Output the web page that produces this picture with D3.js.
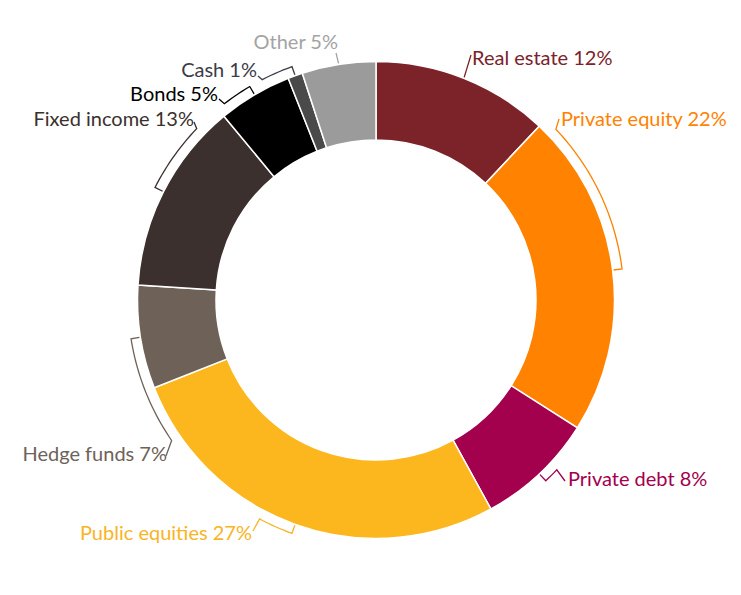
<!DOCTYPE html>
<html>
<head>
<meta charset="utf-8">
<script src="https://cdn.jsdelivr.net/npm/d3@7"></script>
<style>
  body { margin: 0; background: #fff; }
  text { font-family: Lato, "Open Sans", sans-serif; }
</style>
</head>
<body>
<div id="chart"></div>
<script>
// asset allocation, clockwise from 12 o'clock
const categories = ["Real estate", "Private equity", "Private debt", "Public equities",
  "Hedge funds", "Fixed income", "Bonds", "Cash", "Other"];
const shares = [12, 22, 8, 27, 7, 13, 5, 1, 5];
const sliceColors = ["#7b2329", "#ff8200", "#a3004e", "#fdb71e",
  "#6e6258", "#3b302d", "#000000", "#4a4a4a", "#9b9b9b"];
const labelColors = ["#7b2329", "#ff8200", "#a3004e", "#f9b425",
  "#6e6258", "#3b302d", "#000000", "#3c3c48", "#a3a3a3"];

// where each leader bracket ends (deg) and where its label sits
const labelLayout = [
  { end: null, cx: 471, cy: 55, tx: 472, ty: 65, anchor: "start" },
  { end: 46.5, cx: 559, cy: 119, tx: 561, ty: 126, anchor: "start" },
  { end: 133.2, cx: 565, cy: 481, tx: 568, ty: 486, anchor: "start" },
  { end: 208, cx: 253, cy: 531, tx: 252, ty: 540, anchor: "end" },
  { end: 235.5, cx: 166, cy: 456, tx: 167, ty: 461, anchor: "end" },
  { end: 313.7, cx: 194, cy: 122, tx: 194, ty: 126, anchor: "end" },
  { end: 322.3, cx: 219, cy: 99, tx: 218, ty: 101, anchor: "end" },
  { end: 332.7, cx: 258, cy: 76, tx: 257, ty: 77, anchor: "end" },
  { end: null, cx: 336, cy: 53, tx: 338, ty: 49, anchor: "end" }
];

const width = 741, height = 595;
const cx = 376, cy = 300;
const outerR = 238.5, innerR = 160, bracketR = 248;

const svg = d3.select("#chart").append("svg")
  .attr("width", width)
  .attr("height", height);

const g = svg.append("g").attr("transform", "translate(" + cx + "," + cy + ")");

const pie = d3.pie().sort(null).value(d => d);
const arcs = pie(shares);
const arc = d3.arc().innerRadius(innerR).outerRadius(outerR);

g.selectAll("path.slice")
  .data(arcs)
  .join("path")
  .attr("class", "slice")
  .attr("d", arc)
  .attr("fill", (d, i) => sliceColors[i])
  .attr("stroke", "#fff")
  .attr("stroke-width", 1.5);

// point at angle a (radians, 0 = top, clockwise) and radius r
const pt = (a, r) => [Math.sin(a) * r, -Math.cos(a) * r];
const rad = d3.scaleLinear().domain([0, 360]).range([0, 2 * Math.PI]);

const line = d3.line();

arcs.forEach((d, i) => {
  const lay = labelLayout[i];
  const mid = (d.startAngle + d.endAngle) / 2;
  let pts = [pt(mid, outerR + 1)];
  if (lay.end !== null) {
    pts.push(pt(mid, bracketR));
    const end = rad(lay.end);
    const n = Math.max(2, Math.ceil(Math.abs(end - mid) / 0.02));
    d3.range(1, n + 1).forEach(k => {
      pts.push(pt(mid + (end - mid) * k / n, bracketR));
    });
  }
  pts.push([lay.cx - cx, lay.cy - cy]);

  g.append("path")
    .attr("d", line(pts))
    .attr("fill", "none")
    .attr("stroke", labelColors[i])
    .attr("stroke-width", 1.3);

  svg.append("text")
    .attr("x", lay.tx)
    .attr("y", lay.ty)
    .attr("text-anchor", lay.anchor)
    .attr("fill", labelColors[i])
    .style("font-size", "20px")
    .text(categories[i] + " " + shares[i] + "%");
});
</script>
</body>
</html>
